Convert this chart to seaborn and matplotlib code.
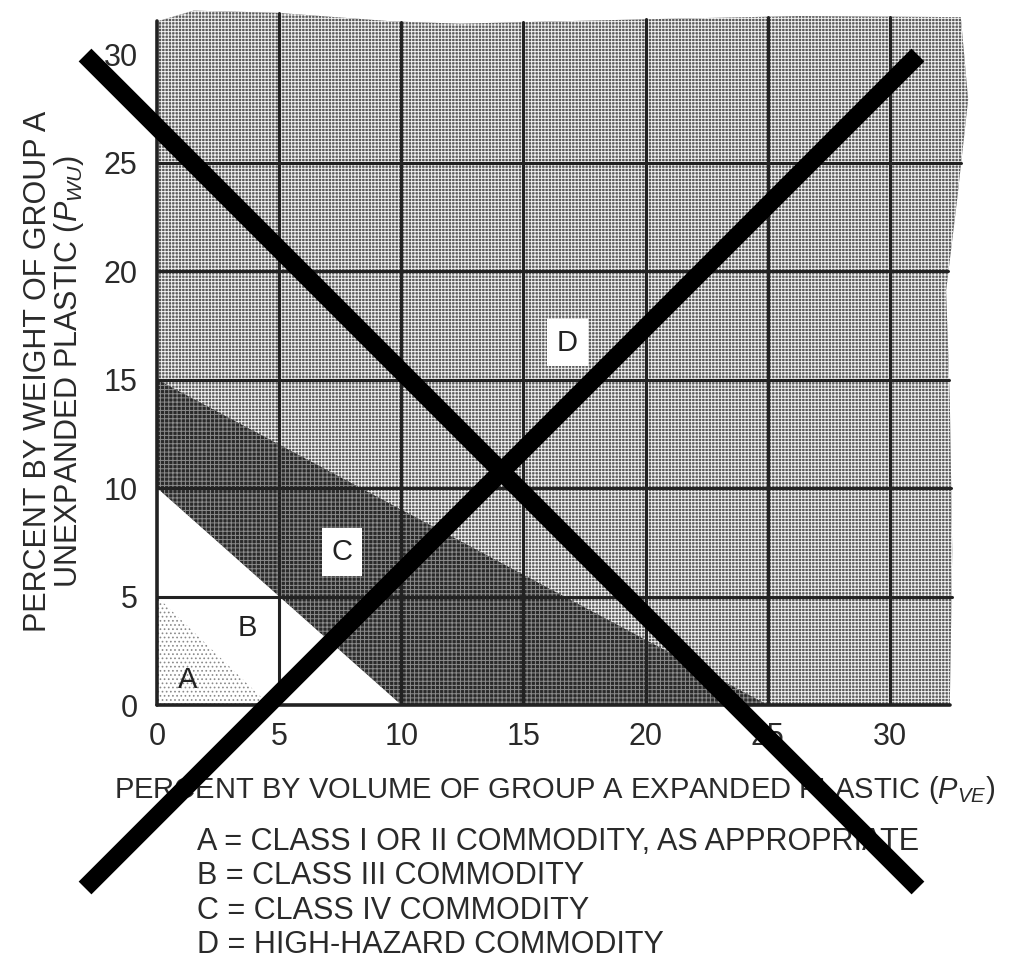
import numpy as np
import matplotlib
matplotlib.use('Agg')
import matplotlib.pyplot as plt
from matplotlib.patches import Polygon
from matplotlib.lines import Line2D
import seaborn as sns

# region outlines (x = % by volume expanded, y = % by weight unexpanded)
d_top_x = [0, 1.5, 4.9, 9.7, 12.4, 20.0, 26.3, 32.9]
d_top_y = [31.5, 32.0, 31.9, 31.5, 31.4, 31.6, 31.75, 31.7]
d_right_x = [32.9, 33.2, 32.75, 32.3, 32.45, 32.55, 32.45]
d_right_y = [31.7, 27.9, 23.3, 19.1, 14.05, 7.1, 0]
c_x = [0, 0, 25, 10]
c_y = [10, 15, 0, 0]
white_x = [0, 0, 10]
white_y = [0, 10, 0]
a_x = [0, 0, 4.6]
a_y = [0, 5, 0]

ticks = [0, 5, 10, 15, 20, 25, 30]
h_grid = [5, 10, 15, 20, 25]
v_grid = [5, 10, 15, 20, 25, 30]

region_labels = ['A', 'B', 'C', 'D']
label_x = [1.27, 3.7, 7.57, 16.8]
label_y = [1.15, 3.55, 7.05, 16.7]

legend_lines = ['A = CLASS I OR II COMMODITY, AS APPROPRIATE',
                'B = CLASS III COMMODITY',
                'C = CLASS IV COMMODITY',
                'D = HIGH-HAZARD COMMODITY']

sns.set_theme(style='white')
plt.rcParams['font.family'] = ['Liberation Sans', 'DejaVu Sans']
plt.rcParams['mathtext.fontset'] = 'custom'
plt.rcParams['mathtext.it'] = 'Liberation Sans:italic'
plt.rcParams['mathtext.rm'] = 'Liberation Sans'
plt.rcParams['hatch.linewidth'] = 0.7

fig = plt.figure(figsize=(10.16, 9.69), dpi=100)
ax = fig.add_axes([0.1545, 0.2724, 0.808, 0.7256])
ax.set_xlim(0, 33.6)
ax.set_ylim(0, 32.4)

# D region
d_poly = list(zip(d_top_x, d_top_y)) + list(zip(d_right_x, d_right_y))[1:] + [(0, 0)]
ax.add_patch(Polygon(d_poly, closed=True, facecolor='#5a5a5a', edgecolor='#f0f0f0',
                     hatch='+++++', linewidth=0, zorder=1))
# C region
ax.add_patch(Polygon(list(zip(c_x, c_y)), closed=True, facecolor='#2a2a2a',
                     edgecolor='#8c8c8c', hatch='++++', linewidth=0, zorder=2))
# B (white) region
ax.add_patch(Polygon(list(zip(white_x, white_y)), closed=True, facecolor='white',
                     linewidth=0, zorder=3))
# A region
ax.add_patch(Polygon(list(zip(a_x, a_y)), closed=True, facecolor='white',
                     edgecolor='#8a8a8a', hatch='....', linewidth=0, zorder=4))

# grid lines
top_at = lambda x: np.interp(x, d_top_x, d_top_y)
right_at = lambda y: np.interp(y, d_right_y[::-1], d_right_x[::-1])
for gx in v_grid:
    sns.lineplot(x=[gx, gx], y=[0, top_at(gx)], ax=ax, color='#222222', linewidth=2.2,
                 estimator=None, sort=False, zorder=5)
for gy in h_grid:
    sns.lineplot(x=[0, right_at(gy)], y=[gy, gy], ax=ax, color='#222222', linewidth=2.2,
                 estimator=None, sort=False, zorder=5)
ax.plot([0, 0], [0, top_at(0)], color='#222222', linewidth=2.6, zorder=5, clip_on=False)
ax.plot([0, right_at(0)], [0, 0], color='#222222', linewidth=2.6, zorder=5, clip_on=False)

for lab, lx, ly in zip(region_labels, label_x, label_y):
    box = dict(facecolor='white', edgecolor='none', pad=7) if lab in ('C', 'D') else None
    ax.text(lx, ly, lab, ha='center', va='center', fontsize=21, color='#222222',
            bbox=box, zorder=6)

sns.despine(ax=ax, left=True, bottom=True)
ax.set_xticks(ticks)
ax.set_yticks(ticks)
ax.set_xlabel('')
ax.set_ylabel('')
ax.tick_params(axis='both', length=0, labelsize=22, labelcolor='#2a2a2a')
ax.tick_params(axis='x', pad=12)
ax.tick_params(axis='y', pad=14)

fig.text(0.546, 0.185, r'PERCENT BY VOLUME OF GROUP A EXPANDED PLASTIC ($P_{VE}$)',
         ha='center', va='center', fontsize=21, color='#2a2a2a')
fig.text(0.037, 0.617, 'PERCENT BY WEIGHT OF GROUP A', rotation=90,
         ha='center', va='center', fontsize=22, color='#2a2a2a')
fig.text(0.068, 0.617, r'UNEXPANDED PLASTIC ($P_{WU}$)', rotation=90,
         ha='center', va='center', fontsize=22, color='#2a2a2a')

for i, line in enumerate(legend_lines):
    fig.text(0.194, 0.131 - i * 0.0355, line, ha='left', va='center',
             fontsize=22, color='#2a2a2a')

# big X over the figure
fig.add_artist(Line2D([0.0837, 0.9035], [0.9432, 0.0836], transform=fig.transFigure,
                      color='black', linewidth=13, solid_capstyle='butt', zorder=10))
fig.add_artist(Line2D([0.9035, 0.0837], [0.9432, 0.0836], transform=fig.transFigure,
                      color='black', linewidth=13, solid_capstyle='butt', zorder=10))

fig.savefig('out.png', dpi=100)
